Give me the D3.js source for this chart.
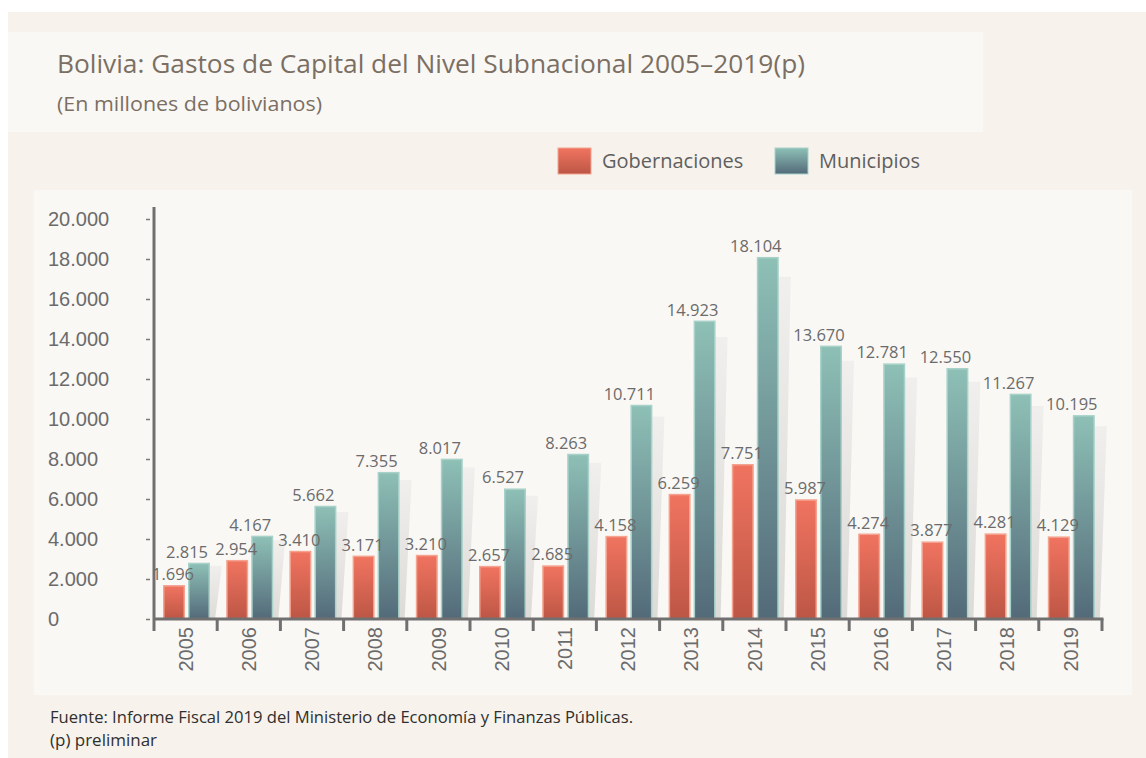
<!DOCTYPE html>
<html>
<head>
<meta charset="utf-8">
<script src="https://cdn.jsdelivr.net/npm/d3@7"></script>
<style>
  body { margin: 0; background: #ffffff; }
  svg { display: block; font-family: 'Open Sans', 'Noto Sans', sans-serif; }
</style>
</head>
<body>
<div id="chart"></div>
<script>
  // data (millones de bolivianos)
  const years = ['2005', '2006', '2007', '2008', '2009', '2010', '2011', '2012',
    '2013', '2014', '2015', '2016', '2017', '2018', '2019'];
  const gobernaciones = [1696, 2954, 3410, 3171, 3210, 2657, 2685, 4158,
    6259, 7751, 5987, 4274, 3877, 4281, 4129];
  const municipios = [2815, 4167, 5662, 7355, 8017, 6527, 8263, 10711,
    14923, 18104, 13670, 12781, 12550, 11267, 10195];
  const seriesNames = ['Gobernaciones', 'Municipios'];
  const yTicks = [0, 2000, 4000, 6000, 8000, 10000, 12000, 14000, 16000, 18000, 20000];

  const width = 1146;
  const height = 758;
  const plot = { left: 154, right: 1102, top: 219, bottom: 619 };

  const locale = d3.formatLocale({ decimal: ',', thousands: '.', grouping: [3], currency: ['', ''] });
  const fmt = locale.format(',d');

  const rows = years.map((yr, i) => ({
    year: yr,
    values: [
      { key: seriesNames[0], value: gobernaciones[i] },
      { key: seriesNames[1], value: municipios[i] },
    ],
  }));

  const svg = d3
    .select('#chart')
    .append('svg')
    .attr('width', width)
    .attr('height', height);

  // gradients for bars and their shadow
  const defs = svg.append('defs');
  function vGrad(id, top, bottom) {
    const g = defs.append('linearGradient').attr('id', id)
      .attr('x1', 0).attr('y1', 0).attr('x2', 0).attr('y2', 1);
    g.append('stop').attr('offset', '0%').attr('stop-color', top);
    g.append('stop').attr('offset', '100%').attr('stop-color', bottom);
  }
  vGrad('gradGob', '#f07460', '#bd5645');
  vGrad('gradMun', '#8ec0b6', '#536a79');
  vGrad('gradShadow', '#f0efed', '#dcdbd8');

  // background panels
  svg.append('rect').attr('x', 8).attr('y', 12).attr('width', 1138).attr('height', 746).attr('fill', '#f7f2ec');
  svg.append('rect').attr('x', 8).attr('y', 32).attr('width', 975).attr('height', 100).attr('fill', '#faf8f5');
  svg.append('rect').attr('x', 34).attr('y', 190).attr('width', 1098).attr('height', 505).attr('fill', '#faf8f5');

  // titles
  svg.append('text')
    .attr('x', 57).attr('y', 73)
    .attr('font-size', 26).attr('fill', '#7b6f63')
    .attr('textLength', 748).attr('lengthAdjust', 'spacingAndGlyphs')
    .text('Bolivia: Gastos de Capital del Nivel Subnacional 2005–2019(p)');
  svg.append('text')
    .attr('x', 57).attr('y', 111)
    .attr('font-size', 20).attr('fill', '#7b6f63')
    .attr('textLength', 265).attr('lengthAdjust', 'spacingAndGlyphs')
    .text('(En millones de bolivianos)');

  // scales
  const x = d3.scaleBand().domain(years).range([plot.left, plot.right]);
  const x1 = d3.scaleBand().domain(seriesNames).range([9, 56]).paddingInner(0.12);
  const y = d3.scaleLinear().domain([0, 20000]).range([plot.bottom, plot.top]);
  const fills = { Gobernaciones: 'url(#gradGob)', Municipios: 'url(#gradMun)' };
  const strokes = { Gobernaciones: '#f4a390', Municipios: '#a8d2c9' };

  // legend
  const legend = svg.append('g').selectAll('g')
    .data(seriesNames)
    .join('g')
    .attr('transform', (d, i) => `translate(${i === 0 ? 558 : 775},148)`);
  legend.append('rect')
    .attr('width', 33).attr('height', 26)
    .attr('fill', (d) => fills[d])
    .attr('stroke', (d) => strokes[d]).attr('stroke-width', 1);
  legend.append('text')
    .attr('x', 44).attr('y', 20)
    .attr('font-size', 20).attr('fill', '#5f5f5f')
    .text((d) => d);

  // Y axis: ticks and labels, detached from the axis line
  const yAxis = svg.append('g')
    .attr('transform', `translate(150,0)`)
    .call(d3.axisLeft(y).tickValues(yTicks).tickFormat(fmt).tickSize(4).tickSizeOuter(0));
  yAxis.select('.domain').remove();
  yAxis.selectAll('.tick line').attr('stroke', '#7a7a7a').attr('stroke-width', 1.5).attr('x2', -4);
  yAxis.selectAll('.tick text')
    .attr('x', 48 - 150)
    .attr('text-anchor', 'start')
    .attr('font-size', 20)
    .attr('fill', '#6b6b6b');

  // shadows behind the municipal bars
  svg.append('g').selectAll('path')
    .data(rows)
    .join('path')
    .attr('fill', 'url(#gradShadow)')
    .attr('d', (d) => {
      const r = x(d.year) + x1('Municipios') + x1.bandwidth();
      const top = y(d.values[1].value * 0.945);
      return `M${r - 2},${top}L${r + 12},${top}L${r + 5},${plot.bottom}L${r - 2},${plot.bottom}Z`;
    });

  // bars
  const groups = svg.append('g').selectAll('g')
    .data(rows)
    .join('g')
    .attr('transform', (d) => `translate(${x(d.year)},0)`);
  groups.selectAll('rect')
    .data((d) => d.values)
    .join('rect')
    .attr('x', (d) => x1(d.key) + 0.75)
    .attr('y', (d) => y(d.value) + 0.75)
    .attr('width', x1.bandwidth() - 1.5)
    .attr('height', (d) => y(0) - y(d.value) - 0.75)
    .attr('fill', (d) => fills[d.key])
    .attr('stroke', (d) => strokes[d.key])
    .attr('stroke-width', 1.5);

  // X axis: year labels rotated, with band separators
  const xAxis = svg.append('g')
    .attr('transform', `translate(0,${plot.bottom})`)
    .call(d3.axisBottom(x).tickSize(0));
  xAxis.select('.domain').remove();
  xAxis.selectAll('.tick text')
    .attr('transform', 'rotate(-90)')
    .attr('x', -8)
    .attr('y', 0)
    .attr('dy', '0.36em')
    .attr('text-anchor', 'end')
    .attr('font-size', 20)
    .attr('fill', '#6b6b6b');

  const sepX = years.map((yr) => x(yr)).concat([x.range()[1]]);
  svg.append('g').selectAll('line')
    .data(sepX.slice(1))
    .join('line')
    .attr('x1', (d) => d).attr('x2', (d) => d)
    .attr('y1', plot.bottom).attr('y2', plot.bottom + 12)
    .attr('stroke', '#707070').attr('stroke-width', 3);
  svg.append('line')
    .attr('x1', plot.left).attr('x2', plot.right + 1.5)
    .attr('y1', plot.bottom).attr('y2', plot.bottom)
    .attr('stroke', '#707070').attr('stroke-width', 3);
  svg.append('line')
    .attr('x1', plot.left).attr('x2', plot.left)
    .attr('y1', 207).attr('y2', plot.bottom + 12)
    .attr('stroke', '#707070').attr('stroke-width', 3);

  // value labels, drawn above the axis line
  svg.append('g').selectAll('g')
    .data(rows)
    .join('g')
    .attr('transform', (d) => `translate(${x(d.year)},0)`)
    .selectAll('text')
    .data((d) => d.values)
    .join('text')
    .attr('x', (d) => x1(d.key) + x1.bandwidth() / 2 + (d.key === 'Municipios' ? -12 : -1))
    .attr('y', (d) => y(d.value) - 5)
    .attr('text-anchor', 'middle')
    .attr('font-size', 16.5)
    .attr('fill', '#6b6b6b')
    .text((d) => fmt(d.value));

  // footer
  svg.append('text')
    .attr('x', 50).attr('y', 723)
    .attr('font-size', 15.5).attr('fill', '#2f2f2f')
    .attr('textLength', 583).attr('lengthAdjust', 'spacingAndGlyphs')
    .text('Fuente: Informe Fiscal 2019 del Ministerio de Economía y Finanzas Públicas.');
  svg.append('text')
    .attr('x', 50).attr('y', 746)
    .attr('font-size', 15.5).attr('fill', '#2f2f2f')
    .attr('textLength', 107).attr('lengthAdjust', 'spacingAndGlyphs')
    .text('(p) preliminar');
</script>
</body>
</html>
